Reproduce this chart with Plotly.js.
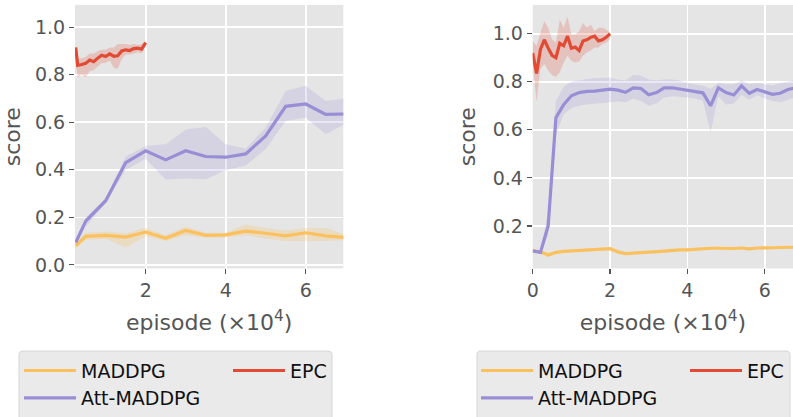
<!DOCTYPE html>
<html>
<head>
<meta charset="utf-8">
<script src="https://cdn.plot.ly/plotly-3.0.1.min.js"></script>
<style>html,body{margin:0;padding:0;background:#fff;}#chart{width:793px;height:417px;}</style>
</head>
<body>
<div id="chart"></div>
<script>
// ---------- data (x in units of 10^4 episodes) ----------
const seriesNames = ["MADDPG", "Att-MADDPG", "EPC"];

// Left panel
const leftX = [0.25,0.5,1.0,1.5,2.0,2.5,3.0,3.5,4.0,4.5,5.0,5.5,6.0,6.5,7.0];
const leftMad   = [0.080,0.120,0.124,0.117,0.138,0.112,0.145,0.124,0.126,0.142,0.133,0.122,0.135,0.122,0.115];
const leftMadUp = [0.090,0.135,0.140,0.133,0.156,0.125,0.160,0.135,0.135,0.170,0.155,0.145,0.155,0.155,0.125];
const leftMadLo = [0.070,0.105,0.110,0.073,0.120,0.100,0.125,0.115,0.115,0.125,0.110,0.100,0.100,0.100,0.105];
const leftAtt   = [0.094,0.184,0.270,0.430,0.480,0.442,0.480,0.456,0.453,0.467,0.543,0.667,0.677,0.633,0.635];
const leftAttUp = [0.100,0.200,0.280,0.456,0.500,0.508,0.570,0.580,0.508,0.490,0.577,0.733,0.754,0.690,0.700];
const leftAttLo = [0.080,0.160,0.260,0.400,0.446,0.359,0.363,0.360,0.398,0.418,0.488,0.605,0.619,0.550,0.594];
const leftEpcX  = [0.25,0.3,0.4,0.5,0.6,0.7,0.8,0.9,1.0,1.1,1.2,1.3,1.4,1.5,1.6,1.7,1.8,1.9,2.0];
const leftEpc   = [0.915,0.840,0.843,0.848,0.862,0.855,0.870,0.882,0.877,0.888,0.878,0.880,0.900,0.905,0.902,0.910,0.912,0.908,0.935];
const leftEpcUp = [0.920,0.870,0.870,0.875,0.890,0.890,0.900,0.905,0.905,0.915,0.915,0.930,0.930,0.930,0.925,0.930,0.925,0.930,0.940];
const leftEpcLo = [0.850,0.790,0.800,0.790,0.815,0.820,0.835,0.850,0.850,0.860,0.830,0.825,0.865,0.885,0.885,0.890,0.895,0.890,0.930];

// Right panel
const rightX = [0.0,0.2,0.4,0.6,0.8,1.0,1.2,1.4,1.6,1.8,2.0,2.2,2.4,2.6,2.8,3.0,3.2,3.4,3.6,3.8,4.0,4.2,4.4,4.6,4.8,5.0,5.2,5.4,5.6,5.8,6.0,6.2,6.4,6.6,6.8,7.0];
const rightMad   = [0.096,0.092,0.079,0.090,0.094,0.096,0.096,0.097,0.100,0.103,0.105,0.092,0.085,0.087,0.088,0.092,0.093,0.095,0.099,0.100,0.100,0.103,0.106,0.107,0.107,0.105,0.106,0.108,0.104,0.108,0.107,0.109,0.110,0.111,0.112,0.112];
const rightMadUp = [0.101,0.098,0.088,0.096,0.099,0.101,0.101,0.102,0.105,0.108,0.110,0.098,0.090,0.092,0.093,0.097,0.098,0.100,0.104,0.105,0.105,0.108,0.111,0.112,0.112,0.110,0.111,0.113,0.109,0.113,0.112,0.114,0.115,0.116,0.117,0.117];
const rightMadLo = [0.091,0.086,0.072,0.084,0.089,0.091,0.091,0.092,0.095,0.098,0.100,0.086,0.080,0.082,0.083,0.087,0.088,0.090,0.094,0.095,0.095,0.098,0.101,0.102,0.102,0.100,0.101,0.103,0.099,0.103,0.102,0.104,0.105,0.106,0.107,0.107];
const rightAtt   = [0.096,0.090,0.200,0.650,0.705,0.742,0.755,0.760,0.761,0.765,0.769,0.765,0.756,0.775,0.772,0.746,0.755,0.775,0.775,0.770,0.765,0.760,0.754,0.700,0.775,0.755,0.745,0.783,0.752,0.768,0.758,0.748,0.752,0.768,0.775,0.772];
const rightAttUp = [0.100,0.100,0.260,0.720,0.780,0.800,0.805,0.812,0.815,0.818,0.818,0.810,0.805,0.828,0.825,0.810,0.805,0.810,0.810,0.805,0.795,0.790,0.785,0.770,0.795,0.790,0.790,0.805,0.790,0.795,0.790,0.785,0.795,0.800,0.810,0.810];
const rightAttLo = [0.090,0.085,0.160,0.580,0.665,0.690,0.700,0.705,0.710,0.712,0.715,0.718,0.715,0.730,0.720,0.700,0.710,0.735,0.740,0.738,0.735,0.730,0.720,0.590,0.740,0.705,0.710,0.745,0.725,0.745,0.730,0.720,0.715,0.725,0.735,0.740];
const rightEpcX  = [0.0,0.1,0.2,0.3,0.4,0.5,0.6,0.7,0.8,0.9,1.0,1.1,1.2,1.3,1.4,1.5,1.6,1.7,1.8,1.9,2.0];
const rightEpc   = [0.920,0.835,0.935,0.975,0.940,0.910,0.900,0.960,0.950,0.990,0.940,0.945,0.930,0.970,0.975,0.985,0.990,0.970,0.975,0.985,1.000];
const rightEpcUp = [0.970,0.950,1.004,1.052,1.025,0.977,0.963,1.059,1.025,1.072,0.997,0.997,1.010,1.045,1.025,1.038,1.010,1.025,1.025,1.018,1.004];
const rightEpcLo = [0.874,0.717,0.854,0.874,0.847,0.827,0.820,0.840,0.880,0.908,0.888,0.880,0.884,0.908,0.922,0.930,0.943,0.943,0.956,0.963,0.977];

// ---------- styling ----------
const colors = {"MADDPG": "#FBC15E", "Att-MADDPG": "#988ED5", "EPC": "#E24A33"};
const bandColors = {"MADDPG": "rgba(251,193,94,0.25)", "Att-MADDPG": "rgba(152,142,213,0.2)", "EPC": "rgba(226,74,51,0.22)"};
const TXT = "#555555";
const FONT = "DejaVu Sans";
const W = 793, H = 417;

function band(x, up, lo, name, xa, ya) {
  return {
    x: x.concat(x.slice().reverse()),
    y: up.concat(lo.slice().reverse()),
    xaxis: xa, yaxis: ya,
    type: "scatter", mode: "lines", fill: "toself",
    fillcolor: bandColors[name], line: {width: 0, color: "rgba(0,0,0,0)"},
    hoverinfo: "skip", showlegend: false
  };
}
function line(x, y, name, xa, ya, leg) {
  return {
    x: x, y: y, xaxis: xa, yaxis: ya, name: name,
    type: "scatter", mode: "lines",
    line: {color: colors[name], width: 3.2},
    showlegend: true, legend: leg
  };
}

const traces = [
  band(leftX, leftMadUp, leftMadLo, "MADDPG", "x", "y"),
  band(leftX, leftAttUp, leftAttLo, "Att-MADDPG", "x", "y"),
  band(leftEpcX, leftEpcUp, leftEpcLo, "EPC", "x", "y"),
  line(leftX, leftMad, "MADDPG", "x", "y", "legend"),
  line(leftX, leftAtt, "Att-MADDPG", "x", "y", "legend2"),
  line(leftEpcX, leftEpc, "EPC", "x", "y", "legend3"),
  band(rightX, rightMadUp, rightMadLo, "MADDPG", "x2", "y2"),
  band(rightX, rightAttUp, rightAttLo, "Att-MADDPG", "x2", "y2"),
  band(rightEpcX, rightEpcUp, rightEpcLo, "EPC", "x2", "y2"),
  line(rightX, rightMad, "MADDPG", "x2", "y2", "legend4"),
  line(rightX, rightAtt, "Att-MADDPG", "x2", "y2", "legend5"),
  line(rightEpcX, rightEpc, "EPC", "x2", "y2", "legend6")
];

const px = v => v / W;
const py = v => 1 - v / H;

function xax(domain, range) {
  return {
    domain: domain, range: range, dtick: 2, tick0: 0,
    showgrid: true, gridcolor: "#ffffff", gridwidth: 1.6, zeroline: false,
    ticks: "outside", ticklen: 5, tickwidth: 1.2, tickcolor: TXT,
    tickfont: {family: FONT, size: 19, color: TXT},
    showline: false,
    title: {text: "episode (×10<sup>4</sup>)", font: {family: FONT, size: 22, color: TXT}, standoff: 14}
  };
}
function yax(anchor, range) {
  return {
    anchor: anchor, domain: [py(273), py(5)], range: range, dtick: 0.2, tick0: 0,
    tickformat: ".1f",
    showgrid: true, gridcolor: "#ffffff", gridwidth: 1.6, zeroline: false,
    ticks: "outside", ticklen: 5, tickwidth: 1.2, tickcolor: TXT,
    tickfont: {family: FONT, size: 19, color: TXT},
    title: {text: "score", font: {family: FONT, size: 22, color: TXT}, standoff: 10}
  };
}
function leg(xPix, yPix) {
  return {
    x: px(xPix), y: py(yPix), xanchor: "left", yanchor: "middle",
    bgcolor: "rgba(0,0,0,0)", borderwidth: 0, itemwidth: 52,
    font: {family: FONT, size: 19, color: "#111111"}, orientation: "v"
  };
}
// rounded legend frame (pixel corners converted to paper coordinates)
function roundBox(x0, y0, x1, y1, r) {
  const X = v => px(v).toFixed(5), Y = v => py(v).toFixed(5);
  return "M" + X(x0 + r) + "," + Y(y0) +
    " L" + X(x1 - r) + "," + Y(y0) +
    " Q" + X(x1) + "," + Y(y0) + " " + X(x1) + "," + Y(y0 + r) +
    " L" + X(x1) + "," + Y(y1 - r) +
    " Q" + X(x1) + "," + Y(y1) + " " + X(x1 - r) + "," + Y(y1) +
    " L" + X(x0 + r) + "," + Y(y1) +
    " Q" + X(x0) + "," + Y(y1) + " " + X(x0) + "," + Y(y1 - r) +
    " L" + X(x0) + "," + Y(y0 + r) +
    " Q" + X(x0) + "," + Y(y0) + " " + X(x0 + r) + "," + Y(y0) + " Z";
}

const layout = {
  width: W, height: H,
  margin: {l: 0, r: 0, t: 0, b: 0},
  paper_bgcolor: "#ffffff", plot_bgcolor: "#E5E5E5",
  font: {family: FONT, color: TXT},
  xaxis: Object.assign(xax([px(75), px(343.3)], [0.2325, 6.94]), {anchor: "y"}),
  yaxis: yax("x", [-0.015, 1.094]),
  xaxis2: Object.assign(xax([px(532.7), 1], [0, 6.73]), {anchor: "y2"}),
  yaxis2: yax("x2", [0.023, 1.12]),
  legend: leg(19, 377),
  legend2: leg(19, 405),
  legend3: leg(228, 377),
  legend4: leg(476, 377),
  legend5: leg(476, 405),
  legend6: leg(685, 377),
  shapes: [
    {type: "path", xref: "paper", yref: "paper", path: roundBox(19, 357, 332, 440, 4),
     fillcolor: "#EAEAEA", line: {color: "#D6D6D6", width: 1}, layer: "below"},
    {type: "path", xref: "paper", yref: "paper", path: roundBox(477, 357, 790, 440, 4),
     fillcolor: "#EAEAEA", line: {color: "#D6D6D6", width: 1}, layer: "below"}
  ],
  showlegend: true
};

Plotly.newPlot("chart", traces, layout, {displayModeBar: false, staticPlot: true});
</script>
</body>
</html>
